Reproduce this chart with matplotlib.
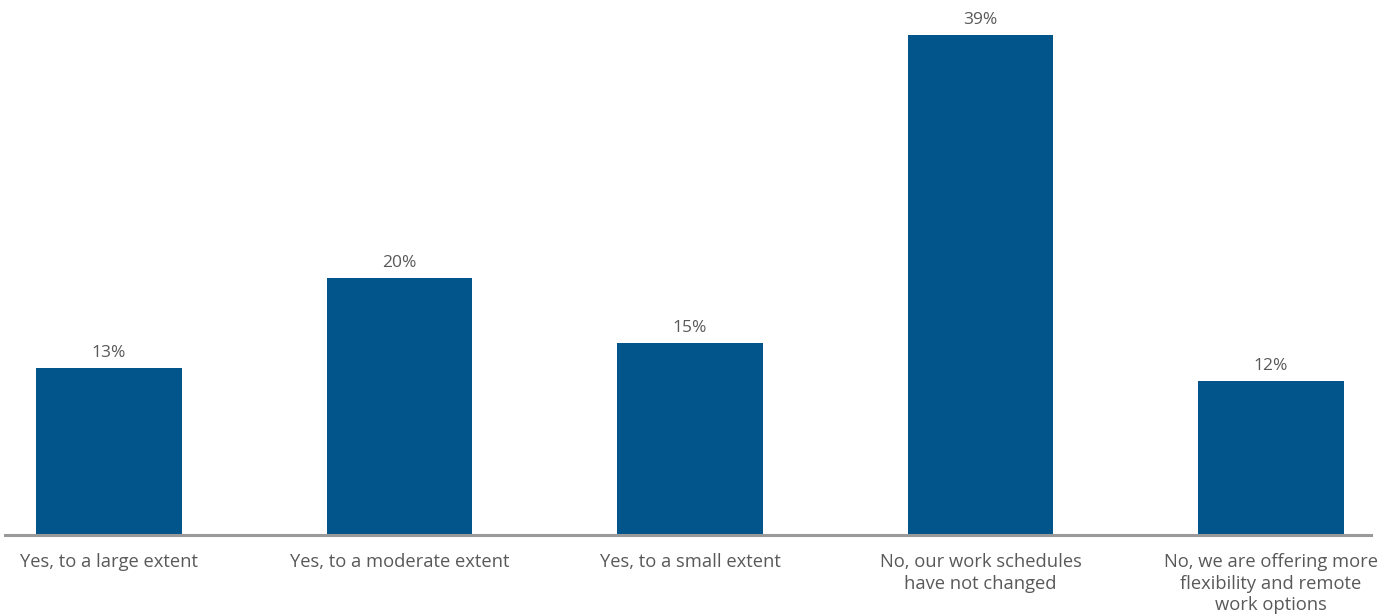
import numpy as np
import matplotlib.pyplot as plt

categories = ['Yes, to a large extent', 'Yes, to a moderate extent', 'Yes, to a small extent',
              'No, our work schedules\nhave not changed',
              'No, we are offering more\nflexibility and remote\nwork options']
values = [13, 20, 15, 39, 12]

bar_color = '#02558b'
text_color = '#595959'
plt.rcParams['font.family'] = ['Open Sans', 'DejaVu Sans']

fig = plt.figure(figsize=(13.94, 6.16), dpi=100)
ax = fig.add_axes([5 / 1394, 1 - 535 / 616, 1366 / 1394, 535 / 616])

x = np.arange(len(categories))
bars = ax.bar(x, values, width=0.5, color=bar_color)
for b, v in zip(bars, values):
    ax.annotate(f'{v}%', (b.get_x() + b.get_width() / 2, v), xytext=(0, 5),
                textcoords='offset points', ha='center', va='bottom',
                fontsize=12.5, color=text_color)

ax.set_xlim(-0.358, 4.344)
ax.set_ylim(0, 41.7)
ax.set_xticks(x)
ax.set_xticklabels(categories, fontsize=13.2, color=text_color, linespacing=1.26, va='top')
ax.tick_params(axis='x', length=0, pad=13)
ax.set_yticks([])
for s in ['top', 'right', 'left']:
    ax.spines[s].set_visible(False)
ax.spines['bottom'].set_color('#9a9a9a')
ax.spines['bottom'].set_linewidth(2.2)

fig.savefig('out.png', dpi=100)
